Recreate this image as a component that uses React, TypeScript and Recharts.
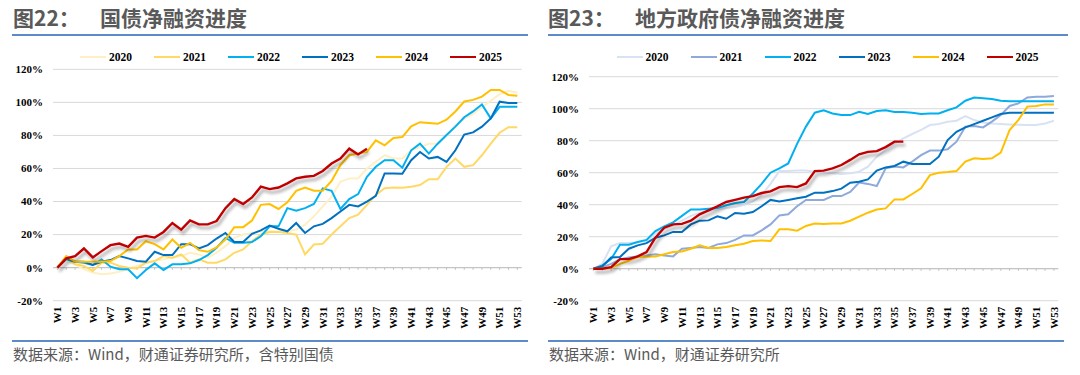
import React from "react";
import { LineChart, Line, XAxis, YAxis, CartesianGrid, ReferenceLine } from "recharts";

const weeks = [
  "W1", "W2", "W3", "W4", "W5", "W6", "W7", "W8", "W9", "W10",
  "W11", "W12", "W13", "W14", "W15", "W16", "W17", "W18", "W19", "W20",
  "W21", "W22", "W23", "W24", "W25", "W26", "W27", "W28", "W29", "W30",
  "W31", "W32", "W33", "W34", "W35", "W36", "W37", "W38", "W39", "W40",
  "W41", "W42", "W43", "W44", "W45", "W46", "W47", "W48", "W49", "W50",
  "W51", "W52", "W53",
];
const years = ["2020", "2021", "2022", "2023", "2024", "2025"];
const yTicks = [-20, 0, 20, 40, 60, 80, 100, 120];

// 图22 国债净融资进度 (%)
const gz2020 = [0, 4, 2, -1, -3, -4, -3.5, -2.5, -1, 1, 3, 4, 5, 6, 7, 9, 8, 6, 9, 13, 18, 20, 21, 22, 22, 22, 22, 23, 26, 31, 37, 43, 52, 54, 54, 60, 64, 68, 66, 66, 71, 73, 75, 75, 80, 86, 90, 93, 97, 101, 105, 107, 106];
const gz2021 = [0, 6, 2, 1, -2, 3, 3, 1, 0, -0.5, 3, 4, 7, 6, 8, 3, 5, 3, 3, 5, 9, 11, 16, 20, 21.5, 21.5, 21, 20, 8, 14, 14.5, 20, 25, 30, 32, 38, 44, 48, 48.5, 48.3, 49, 50, 53.5, 53.5, 61, 66, 61, 62, 68, 75, 81.6, 85, 85];
const gz2022 = [0, 5, 3.6, 3, 1.6, 5, 0.6, -1, -1, -6.4, -1.4, 2.6, -1.4, 2, 2, 2.6, 4.6, 7.6, 12, 18, 15, 15, 15.5, 19, 25, 25, 36, 34.5, 36, 38.5, 48, 46.5, 35.5, 41.5, 44.5, 55, 61, 65, 65, 60.5, 71, 75, 69, 75, 80.3, 85.3, 91, 94.5, 98.7, 90.3, 97.3, 97.3, 97.3];
const gz2023 = [0, 5.6, 3.6, 3.6, 1.6, 3.6, 4.6, 7, 5.6, 4, 3.6, 9.6, 7.6, 7.6, 14.2, 14.2, 11.6, 13.6, 17.6, 21, 15.5, 15.5, 20.5, 22.5, 25.5, 23.5, 22, 27, 21, 25, 26.5, 30, 34, 38, 37, 40, 43.5, 57, 57, 56.8, 65, 70, 66, 67, 64, 71, 80.5, 81.8, 85.3, 90.3, 100.4, 99.6, 99.6];
const gz2024 = [0, 7, 3.6, 3.6, 3.6, 3.6, 4, 7, 11, 11, 16, 14.2, 11, 17, 12, 15, 10.6, 9.6, 12.2, 17, 24.5, 24.5, 28.5, 38, 38.5, 35.5, 39.5, 46.5, 48.5, 46.5, 46.5, 52.5, 62, 68, 69, 70, 77, 74, 78.5, 79, 85.5, 88, 87.5, 87, 89.5, 94.5, 100.5, 101.5, 103.5, 107.5, 107.5, 104.5, 104];
const gz2025 = [0, 5.6, 7, 11.6, 6.2, 10, 13.6, 14.6, 12.6, 18.2, 19.2, 18.2, 21.6, 27, 23, 28.6, 26.2, 26.2, 28.2, 36, 41.5, 38.5, 42.5, 49, 47.5, 48.5, 51, 54, 55, 55.5, 58.5, 63, 66, 72, 68.5, 72];

// 图23 地方政府债净融资进度 (%)
const df2020 = [0, 3, 14, 16, 16, 16.5, 17.5, 22, 25, 27, 30, 33, 35, 36, 37, 38, 38.5, 40, 42, 46, 53, 61, 61, 61.3, 61.3, 60.6, 60, 59.6, 59.2, 59.6, 60.6, 63.8, 70, 74.2, 78.3, 81.5, 84.2, 86.7, 89.8, 90.4, 91.9, 92.5, 95.4, 92.9, 91.3, 90.8, 90.5, 90.2, 90, 89.8, 89.8, 90.8, 92.5];
const df2021 = [0, 1, 3, 6, 7, 7.7, 8.3, 9, 8.3, 7.7, 12.5, 13, 13.5, 13, 15.2, 16, 18, 20.8, 20.8, 24, 27.7, 33.3, 34, 39, 43, 43, 43, 45.4, 45.4, 48, 53.8, 53, 51.7, 62.7, 63.8, 63.3, 66.9, 71, 73.8, 73.8, 74.6, 79.4, 88.8, 89.2, 88.3, 91.9, 96, 101.7, 103.3, 107, 107.5, 107.5, 108];
const df2022 = [0, 2, 6, 15, 15, 16.7, 18, 23.5, 26.5, 29, 33, 37, 37, 37.5, 38, 39.6, 41, 41.7, 47, 53, 60, 62.7, 65.8, 78, 88.8, 97.5, 99, 97, 96, 96, 98, 96.7, 98.5, 99, 98, 98, 97.5, 96.7, 97, 97, 99, 100.8, 105, 107, 106.5, 106, 105, 104.6, 104.6, 104.6, 104.6, 104.6, 104.6];
const df2023 = [0, 1.5, 7, 7.3, 12.5, 14.6, 16, 19.4, 20.8, 23, 23, 27.7, 30, 30.2, 32.7, 31.2, 34.8, 34.4, 35.4, 39, 43, 42, 43, 44, 45, 47.5, 47.5, 48.5, 50, 53.7, 54.4, 55.8, 61.3, 63.3, 64.2, 66.9, 65.4, 65.4, 65.4, 70, 80.4, 85.6, 88.3, 90.4, 92.5, 94.6, 96.7, 97.5, 97.5, 97.5, 97.5, 97.5, 97.5];
const df2024 = [0, 0, 0.6, 3, 5, 7.3, 7.7, 7.7, 9, 10.4, 10.8, 12.5, 14.6, 13, 13, 13.5, 14.6, 15.6, 17.3, 17.7, 17.3, 24.6, 24.6, 23.8, 26.7, 28.3, 27.9, 28.3, 28.3, 30, 32.5, 35, 37, 37.7, 43.3, 43.3, 46.7, 50.2, 58.5, 60, 60.4, 61, 66.9, 69, 68.5, 69, 72.5, 86.7, 93, 101.3, 101.7, 102.7, 102.7];
const df2025 = [0, 0, 1, 6, 6, 7.7, 10.4, 19.4, 25.6, 27.7, 28, 30, 34, 36.5, 39, 41.7, 43, 44.4, 45.4, 47.3, 48.3, 51, 51.6, 51, 53.3, 61, 61.3, 62.7, 64.8, 68, 71.5, 73, 73.5, 76, 79.4, 79.4];

const gzColors = ["#FFEFC4", "#FFD966", "#00B0F0", "#0070C0", "#FFC000", "#C00000"];
const dfColors = ["#D9E2F3", "#8EA9DB", "#00B0F0", "#0070C0", "#FFC000", "#C00000"];

const serif = "'Liberation Serif', 'Times New Roman', serif";
const cjk = "'Noto Sans CJK SC', 'Noto Sans', sans-serif";

function buildRows(series: number[][]) {
  return weeks.map((w, i) => {
    const row: Record<string, string | number | null> = { week: w };
    years.forEach((y, k) => {
      row[y] = series[k][i] ?? null;
    });
    return row;
  });
}

function WeekTick(props: any) {
  const { x, y, payload } = props;
  if (weeks.indexOf(payload.value) % 2 !== 0) return null;
  return (
    <text
      x={x}
      y={y}
      transform={`rotate(-90, ${x}, ${y})`}
      textAnchor="end"
      dy="0.35em"
      fontFamily={serif}
      fontWeight="bold"
      fontSize={11}
      fill="#000"
    >
      {payload.value}
    </text>
  );
}

interface PanelProps {
  id: string;
  left: number;
  top: number;
  rightGap: number;
  series: number[][];
  colors: string[];
}

function Panel({ id, left, top, rightGap, series, colors }: PanelProps) {
  const data = buildRows(series);
  return (
    <div style={{ position: "absolute", left: 0, top: 0 }}>
      <LineChart
        width={540}
        height={375}
        data={data}
        margin={{ top: top, right: rightGap, bottom: 34.3, left: left }}
      >
        <defs>
          <filter id={`shadow-${id}`} x="-10%" y="-10%" width="130%" height="140%">
            <feDropShadow dx="2" dy="3.5" stdDeviation="1.6" floodColor="#000" floodOpacity="0.35" />
          </filter>
        </defs>
        <CartesianGrid vertical={false} stroke="#D9D9D9" strokeWidth={1} />
        <XAxis
          dataKey="week"
          interval={0}
          axisLine={false}
          tickLine={false}
          tickSize={0}
          tickMargin={6}
          height={40}
          padding={{ left: 4.4, right: 4.4 }}
          tick={<WeekTick />}
        />
        <YAxis
          type="number"
          domain={[-20, 120]}
          ticks={yTicks}
          width={48}
          axisLine={false}
          tickLine={false}
          tickSize={0}
          tickMargin={10}
          tickFormatter={(v: number) => `${v}%`}
          tick={{ fontFamily: serif, fontWeight: "bold", fontSize: 11, fill: "#000" }}
        />
        <ReferenceLine y={0} stroke="#BFBFBF" strokeWidth={1} />
        {weeks.map((w) => (
          <ReferenceLine
            key={w}
            segment={[{ x: w, y: 0 }, { x: w, y: -1.3 }]}
            stroke="#BFBFBF"
            strokeWidth={1}
          />
        ))}
        {years.map((y, k) => (
          <Line
            key={y}
            type="linear"
            dataKey={y}
            stroke={colors[k]}
            strokeWidth={k === 5 ? 2.4 : 2}
            dot={false}
            activeDot={false}
            isAnimationActive={false}
            filter={k === 5 ? `url(#shadow-${id})` : undefined}
          />
        ))}
      </LineChart>
    </div>
  );
}

function LegendRow({ x, colors }: { x: number; colors: string[] }) {
  return (
    <>
      {years.map((y, k) => (
        <div
          key={y}
          style={{ position: "absolute", left: x + k * 74, top: 50, height: 14, display: "flex", alignItems: "center" }}
        >
          <div style={{ width: 26, height: 2, background: colors[k] }} />
          <span
            style={{ marginLeft: 3, fontFamily: serif, fontWeight: "bold", fontSize: 11.5, color: "#000", lineHeight: "14px" }}
          >
            {y}
          </span>
        </div>
      ))}
    </>
  );
}

const titleStyle: React.CSSProperties = {
  position: "absolute",
  top: 5,
  fontFamily: cjk,
  fontWeight: "bold",
  fontSize: 21,
  lineHeight: "24px",
  color: "#595959",
  whiteSpace: "nowrap",
};

const sourceStyle: React.CSSProperties = {
  position: "absolute",
  top: 345,
  fontFamily: cjk,
  fontSize: 15,
  lineHeight: "18px",
  color: "#595959",
  whiteSpace: "nowrap",
};

export default function App() {
  return (
    <div style={{ position: "absolute", left: 0, top: 0, width: 1080, height: 375, background: "#fff", overflow: "hidden" }}>
      <div style={{ ...titleStyle, left: 13 }}>图22：</div>
      <div style={{ ...titleStyle, left: 100 }}>国债净融资进度</div>
      <div style={{ ...titleStyle, left: 548 }}>图23：</div>
      <div style={{ ...titleStyle, left: 635 }}>地方政府债净融资进度</div>
      <div style={{ position: "absolute", left: 12, top: 33.5, width: 516, height: 2, background: "#5B8BC8" }} />
      <div style={{ position: "absolute", left: 548, top: 33.5, width: 520, height: 2, background: "#5B8BC8" }} />

      <LegendRow x={80} colors={gzColors} />
      <LegendRow x={616.5} colors={dfColors} />

      <Panel id="gz" left={5} top={69.3} rightGap={18.3} series={[gz2020, gz2021, gz2022, gz2023, gz2024, gz2025]} colors={gzColors} />
      <div style={{ position: "absolute", left: 540, top: 0 }}>
        <Panel id="df" left={1} top={76.7} rightGap={21.7} series={[df2020, df2021, df2022, df2023, df2024, df2025]} colors={dfColors} />
      </div>

      <div style={{ position: "absolute", left: 12, top: 340, width: 516, height: 1.5, background: "#5B8BC8" }} />
      <div style={{ position: "absolute", left: 548, top: 340, width: 516, height: 1.5, background: "#5B8BC8" }} />
      <div style={{ ...sourceStyle, left: 13 }}>数据来源：Wind，财通证券研究所，含特别国债</div>
      <div style={{ ...sourceStyle, left: 549 }}>数据来源：Wind，财通证券研究所</div>
    </div>
  );
}
